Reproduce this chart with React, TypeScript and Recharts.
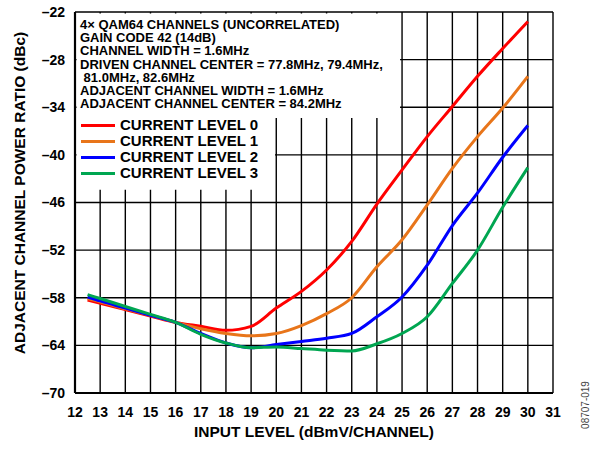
import {
  LineChart,
  Line,
  XAxis,
  YAxis,
  CartesianGrid,
  ReferenceArea,
} from 'recharts'

const inputLevel = [12.5, 13, 14, 15, 16, 17, 18, 19, 20, 21, 22, 23, 24, 25, 26, 27, 28, 29, 30]
const level0 = [-58.3, -58.7, -59.5, -60.3, -61.1, -61.6, -62.1, -61.6, -59.3, -57.2, -54.5, -50.9, -46.2, -41.9, -37.7, -33.9, -30.1, -26.6, -23.2]
const level1 = [-58.1, -58.5, -59.4, -60.2, -61.1, -61.9, -62.5, -62.8, -62.5, -61.5, -60.0, -58.0, -54.1, -50.7, -46.3, -41.7, -37.7, -34.1, -30.1]
const level2 = [-57.9, -58.4, -59.3, -60.2, -61.1, -62.5, -63.7, -64.3, -63.9, -63.5, -63.1, -62.5, -60.4, -57.9, -53.9, -48.9, -44.8, -40.3, -36.3]
const level3 = [-57.6, -58.1, -59.1, -60.1, -61.1, -62.6, -63.7, -64.3, -64.2, -64.4, -64.6, -64.7, -63.8, -62.5, -60.4, -56.2, -52.0, -46.6, -41.6]

const xTicks = [12, 13, 14, 15, 16, 17, 18, 19, 20, 21, 22, 23, 24, 25, 26, 27, 28, 29, 30, 31]
const yTicks = [-70, -64, -58, -52, -46, -40, -34, -28, -22]

const notes = [
  '4\u00d7 QAM64 CHANNELS (UNCORRELATED)',
  'GAIN CODE 42 (14dB)',
  'CHANNEL WIDTH = 1.6MHz',
  'DRIVEN CHANNEL CENTER = 77.8MHz, 79.4MHz,',
  '\u00a081.0MHz, 82.6MHz',
  'ADJACENT CHANNEL WIDTH = 1.6MHz',
  'ADJACENT CHANNEL CENTER = 84.2MHz',
]

const series = [
  { key: 'l0', name: 'CURRENT LEVEL 0', color: '#ff0000', values: level0 },
  { key: 'l1', name: 'CURRENT LEVEL 1', color: '#e8751a', values: level1 },
  { key: 'l2', name: 'CURRENT LEVEL 2', color: '#0000ff', values: level2 },
  { key: 'l3', name: 'CURRENT LEVEL 3', color: '#00a651', values: level3 },
]

const data = inputLevel.map((x, i) => {
  const row: Record<string, number> = { x }
  series.forEach((s) => (row[s.key] = s.values[i]))
  return row
})

const font = '"Liberation Sans", Arial, sans-serif'
const tickStyle = { fill: '#000', fontSize: 14, fontWeight: 700, fontFamily: font }

export default function App() {
  return (
    <div style={{ position: 'absolute', left: 0, top: 0, width: 594, height: 450, background: '#fff', fontFamily: font }}>
      <LineChart width={594} height={450} data={data} margin={{ top: 12, right: 41, bottom: 0, left: 0 }}>
        <CartesianGrid stroke="#000" strokeWidth={1.4} horizontal vertical />
        {/* white boxes behind the notes and legend */}
        <ReferenceArea x1={12.06} x2={24.92} y1={-35.35} y2={-22.19} fill="#fff" fillOpacity={1} stroke="none" ifOverflow="hidden" />
        <ReferenceArea x1={12.06} x2={19.95} y1={-44.4} y2={-35.3} fill="#fff" fillOpacity={1} stroke="none" ifOverflow="hidden" />
        <XAxis
          dataKey="x"
          type="number"
          domain={[12, 31]}
          ticks={xTicks}
          interval={0}
          height={57}
          tickLine={false}
          tickSize={0}
          tickMargin={14}
          axisLine={{ stroke: '#000', strokeWidth: 2.2 }}
          tick={tickStyle}
        />
        <YAxis
          type="number"
          domain={[-70, -22]}
          ticks={yTicks}
          interval={0}
          width={75}
          tickLine={false}
          tickSize={0}
          tickMargin={10}
          axisLine={{ stroke: '#000', strokeWidth: 2.2 }}
          tick={tickStyle}
          tickFormatter={(v: number) => '\u2013' + Math.abs(v)}
        />
        {series.map((s) => (
          <Line
            key={s.key}
            dataKey={s.key}
            type="monotone"
            stroke={s.color}
            strokeWidth={3}
            dot={false}
            isAnimationActive={false}
          />
        ))}
      </LineChart>

      {/* notes */}
      <div style={{ position: 'absolute', left: 80, top: 18, fontSize: 13, fontWeight: 700, lineHeight: '13.2px', whiteSpace: 'pre' }}>
        {notes.map((n, i) => (
          <div key={i}>{n}</div>
        ))}
      </div>

      {/* legend */}
      <div style={{ position: 'absolute', left: 81, top: 117, fontSize: 15, fontWeight: 700, lineHeight: '16px' }}>
        {series.map((s) => (
          <div key={s.key} style={{ display: 'flex', alignItems: 'center', height: 16 }}>
            <div style={{ width: 34, height: 3, background: s.color, marginRight: 5 }} />
            <span>{s.name}</span>
          </div>
        ))}
      </div>

      {/* axis titles */}
      <div style={{ position: 'absolute', left: 314, top: 432, transform: 'translate(-50%, -50%)', fontSize: 15.5, fontWeight: 700, whiteSpace: 'nowrap' }}>
        INPUT LEVEL (dBmV/CHANNEL)
      </div>
      <div style={{ position: 'absolute', left: 20, top: 193, transform: 'translate(-50%, -50%) rotate(-90deg)', fontSize: 15.5, fontWeight: 700, whiteSpace: 'nowrap' }}>
        ADJACENT CHANNEL POWER RATIO (dBc)
      </div>
      <div style={{ position: 'absolute', left: 585, top: 405, transform: 'translate(-50%, -50%) rotate(-90deg)', fontSize: 10, color: '#444', whiteSpace: 'nowrap' }}>
        08707-019
      </div>
    </div>
  )
}
